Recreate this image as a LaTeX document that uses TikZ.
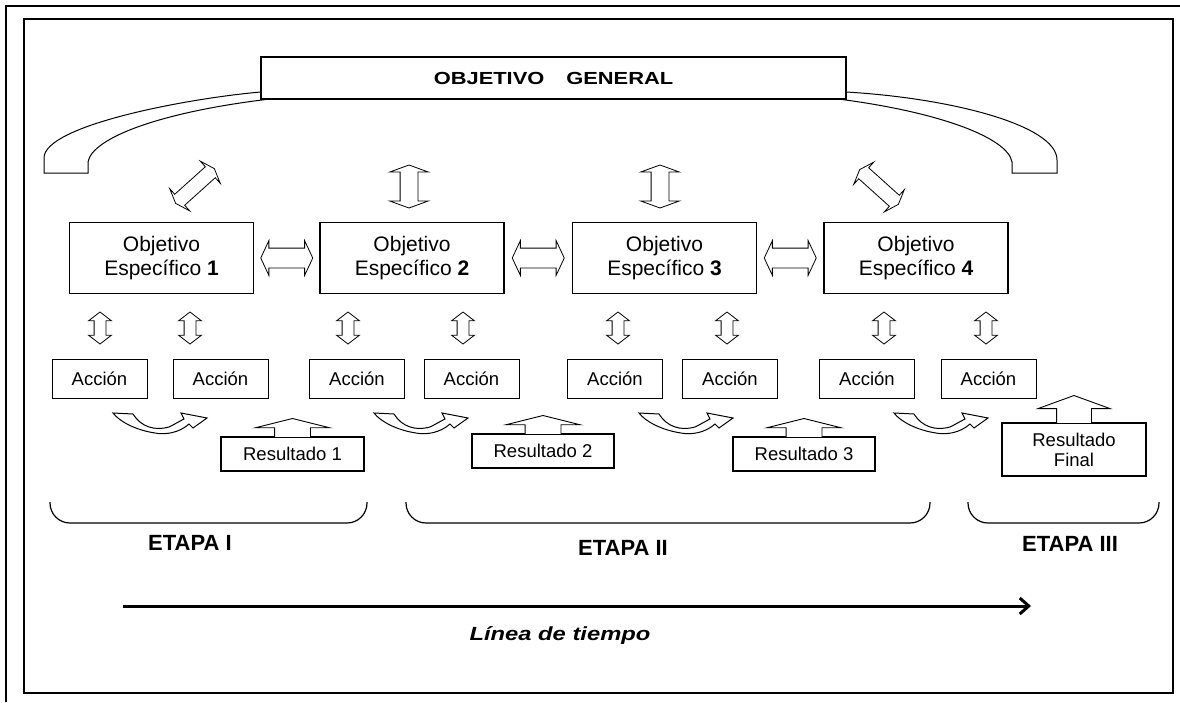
\documentclass[tikz,border=0pt]{standalone}
\usepackage{fontspec}
\setmainfont{Liberation Sans}
\usetikzlibrary{positioning,calc,shapes.arrows,arrows.meta}

\begin{document}
\begin{tikzpicture}[x=1pt,y=-1pt,
	oebox/.style={draw=black,fill=white,line width=1.3pt,minimum width=184pt,minimum height=71pt,align=center,font=\fontsize{21}{24}\selectfont},
	accbox/.style={draw=black,line width=1pt,minimum width=95pt,minimum height=39pt,font=\fontsize{18.5}{22}\selectfont},
	resbox/.style={draw=black,fill=white,line width=1.1pt,minimum height=34pt,align=center,font=\fontsize{18.5}{20}\selectfont},
	dbl/.style={double arrow,draw=black,fill=white,line width=0.8pt,inner xsep=0pt},
	sdbl/.style={dbl,rotate=90,minimum height=32pt,minimum width=22pt,inner ysep=5.5pt,double arrow head extend=5.5pt,double arrow tip angle=105},
	bdbl/.style={dbl,minimum height=43pt,minimum width=38pt,inner ysep=8.5pt,double arrow head extend=10.5pt,double arrow tip angle=140},
	hdbl/.style={dbl,minimum height=52pt,minimum width=34pt,inner ysep=9.5pt,double arrow head extend=7.5pt,double arrow tip angle=130},
	uparr/.style={single arrow,draw=black,fill=white,line width=0.9pt,rotate=90,anchor=tail,inner xsep=0pt},
	etapa/.style={rounded corners=20pt,line width=1.2pt},
	etxt/.style={font=\fontsize{22}{24}\selectfont\bfseries},
	band/.style={draw=black,fill=white,line width=1pt}
	]
		\useasboundingbox (0,0) rectangle (1180,702);
		\draw[line width=2pt] (1180,6) -- (6,6) -- (6,702);
		\draw[line width=1.3pt] (24,19) rectangle (1173,693);
		\draw[line width=2.8pt] (1173,19) -- (1173,693) -- (24,693);
		
		\draw[band] (261,92) .. controls (190,98) and (44,125) .. (44,158) -- (44,173) -- (88,173) -- (88,162) .. controls (92,138) and (160,112) .. (270,99) -- (275,95) -- cycle;
		\draw[band] (846,92) .. controls (950,98) and (1057,125) .. (1057,160) -- (1057,173) -- (1012,173) -- (1012,162) .. controls (1008,138) and (940,112) .. (838,99) -- (833,95) -- cycle;
		\node[draw=black,fill=white,line width=1.2pt,minimum width=585pt,minimum height=42pt] (og) at (553.5,78) {\scalebox{1.25}[1]{\fontsize{17.5}{20}\selectfont\bfseries OBJETIVO\hspace{1em}GENERAL}};
		
		\node[oebox] (oe1) at (161.5,258) {Objetivo\\Específico \textbf{1}};
		\node[oebox] (oe2) at (412,258) {Objetivo\\Específico \textbf{2}};
		\node[oebox] (oe3) at (664.5,258) {Objetivo\\Específico \textbf{3}};
		\node[oebox] (oe4) at (916,258) {Objetivo\\Específico \textbf{4}};
		
		\node[bdbl,rotate=42,minimum height=52pt,minimum width=29pt,inner ysep=7pt,double arrow head extend=7.5pt] (d1) at (195,186) {};
		\node[bdbl,rotate=90] (d2) at (409,186.5) {};
		\node[bdbl,rotate=90] (d3) at (660,186.5) {};
		\node[bdbl,rotate=-42,minimum height=52pt,minimum width=29pt,inner ysep=7pt,double arrow head extend=7.5pt] (d4) at (879,187) {};
		
		\node[hdbl] (h1) at ($(oe1.east)!0.5!(oe2.west)$) {};
		\node[hdbl] (h2) at ($(oe2.east)!0.5!(oe3.west)$) {};
		\node[hdbl] (h3) at ($(oe3.east)!0.5!(oe4.west)$) {};
		
		\foreach \x [count=\i] in {100,190,348,463,618,727,884,986}
			\node[sdbl] (s\i) at (\x,328) {};
		\foreach \x [count=\i] in {99.5,220.5,357,471.5,615,730,867,988.5}
			\node[accbox] (a\i) at (\x,378.5) {Acción};
		
		\foreach \x in {113,374,639,894}
			\draw[band,shift={(\x,413)}] (0,0) -- (20,1) .. controls (28,14) and (42,18) .. (56,14) .. controls (62,11) and (67,8) .. (71,6) -- (68,0) -- (94,5) -- (80,15) -- (76,11) .. controls (66,20) and (52,22) .. (42,20) .. controls (22,17) and (6,8) .. cycle;
		
		\node[resbox,minimum width=143pt] (r1) at (292.5,454) {Resultado 1};
		\node[resbox,minimum width=142pt] (r2) at (543,451) {Resultado 2};
		\node[resbox,minimum width=142pt] (r3) at (804,454) {Resultado 3};
		\node[resbox,minimum width=144pt,minimum height=53pt] (rf) at (1074,449.5) {Resultado\\Final};
		\node[uparr,minimum height=19pt,minimum width=73pt,inner ysep=17.5pt,single arrow head extend=19pt,single arrow tip angle=152] (u1) at ([yshift=-1.5pt]r1.north) {};
		\node[uparr,minimum height=19pt,minimum width=73pt,inner ysep=17.5pt,single arrow head extend=19pt,single arrow tip angle=152] (u2) at ([yshift=-1.5pt]r2.north) {};
		\node[uparr,minimum height=19pt,minimum width=73pt,inner ysep=17.5pt,single arrow head extend=19pt,single arrow tip angle=152] (u3) at ([yshift=-1.5pt]r3.north) {};
		\node[uparr,minimum height=28pt,minimum width=71pt,inner ysep=17pt,single arrow head extend=18.5pt,single arrow tip angle=140] (uf) at ([yshift=-1.5pt]rf.north) {};
		
		\draw[etapa] (50,502) -- (50,523) -- (367,523) -- (367,502);
		\draw[etapa] (406,502) -- (406,523) -- (930,523) -- (930,502);
		\draw[etapa] (968,502) -- (968,523) -- (1159,523) -- (1159,502);
		\node[etxt] (e1) at (190,543) {ETAPA I};
		\node[etxt] (e2) at (623,548) {ETAPA II};
		\node[etxt] (e3) at (1070,544) {ETAPA III};
		
		\coordinate (t0) at (123,606);
		\coordinate (t1) at (1031,606);
		\draw[line width=3pt,-{Straight Barb[length=9pt,width=16pt]}] (t0) -- (t1);
		\node (lt) at (560,635) {\scalebox{1.25}[1]{\fontsize{19}{22}\selectfont\bfseries\itshape Línea de tiempo}};
	\end{tikzpicture}
\end{document}
